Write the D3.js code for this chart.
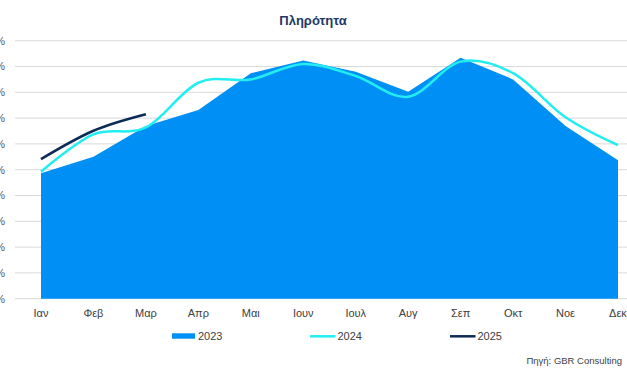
<!DOCTYPE html>
<html><head><meta charset="utf-8">
<script src="https://cdn.jsdelivr.net/npm/d3@7"></script>
<style>body{margin:0;background:#fff}svg{display:block}text{font-family:"Liberation Sans",Arial,sans-serif}</style>
</head><body><svg id="c" width="627" height="376"></svg>
<script>
const months = ["Ιαν","Φεβ","Μαρ","Απρ","Μαι","Ιουν","Ιουλ","Αυγ","Σεπ","Οκτ","Νοε","Δεκ"];
const v2023 = [48.6,55.0,66.9,73.1,87.4,92.3,88.0,80.2,93.4,85.0,66.9,53.7];
const v2024 = [49.2,63.7,66.4,83.7,85.0,91.0,86.3,78.3,91.9,87.4,70.3,59.5];
const v2025 = [54.1,65.1,71.5];
const yTicks = [0,10,20,30,40,50,60,70,80,90,100];
const seriesNames = ["2023","2024","2025"];
const colors = {a:"#008ff5", b:"#22eef0", c:"#0c2c57"};

const svg = d3.select("#c");
const x = d3.scalePoint().domain(months).range([41,618]);
const y = d3.scaleLinear().domain([0,100]).range([298.7,40.7]);

// gridlines
svg.append("g").selectAll("line").data(yTicks).join("line")
  .attr("x1",15).attr("x2",627).attr("y1",d=>y(d)).attr("y2",d=>y(d))
  .attr("stroke","#d9d9d9").attr("stroke-width",1);
// y labels
svg.append("g").selectAll("text").data(yTicks).join("text")
  .attr("x",5).attr("y",d=>y(d)).attr("dy","0.35em").attr("text-anchor","end")
  .attr("font-size",11).attr("fill","#595959").text(d=>d+"%");

// area 2023
svg.append("path").datum(v2023)
  .attr("d",d3.area().x((d,i)=>x(months[i])).y0(y(0)).y1(d=>y(d)))
  .attr("fill",colors.a);

const line = d3.line().x((d,i)=>x(months[i])).y(d=>y(d)).curve(d3.curveCardinal.tension(0));
svg.append("path").datum(v2024).attr("d",line).attr("fill","none")
  .attr("stroke",colors.b).attr("stroke-width",2.5);
svg.append("path").datum(v2025).attr("d",line).attr("fill","none")
  .attr("stroke",colors.c).attr("stroke-width",2.5);

// x labels
svg.append("g").selectAll("text").data(months).join("text")
  .attr("x",d=>x(d)).attr("y",313).attr("dy","0.35em").attr("text-anchor","middle")
  .attr("font-size",11).attr("fill","#404040").text(d=>d);

// title
svg.append("text").attr("x",313).attr("y",20).attr("dy","0.35em").attr("text-anchor","middle")
  .attr("font-size",13).attr("font-weight","bold").attr("fill","#1f3864").text("Πληρότητα");

// legend
const lg = svg.append("g");
lg.append("rect").attr("x",172).attr("y",333.3).attr("width",23).attr("height",5.4).attr("fill",colors.a);
lg.append("text").attr("x",198).attr("y",336).attr("dy","0.35em").attr("font-size",11).attr("fill","#404040").text(seriesNames[0]);
lg.append("line").attr("x1",310).attr("x2",335.5).attr("y1",336.3).attr("y2",336.3).attr("stroke",colors.b).attr("stroke-width",2.5);
lg.append("text").attr("x",337.5).attr("y",336).attr("dy","0.35em").attr("font-size",11).attr("fill","#404040").text(seriesNames[1]);
lg.append("line").attr("x1",450).attr("x2",475.5).attr("y1",336.3).attr("y2",336.3).attr("stroke",colors.c).attr("stroke-width",2.5);
lg.append("text").attr("x",477.5).attr("y",336).attr("dy","0.35em").attr("font-size",11).attr("fill","#404040").text(seriesNames[2]);

// source
svg.append("text").attr("x",622).attr("y",361).attr("dy","0.35em").attr("text-anchor","end")
  .attr("font-size",9.5).attr("fill","#404040").text("Πηγή: GBR Consulting");
</script></body></html>
